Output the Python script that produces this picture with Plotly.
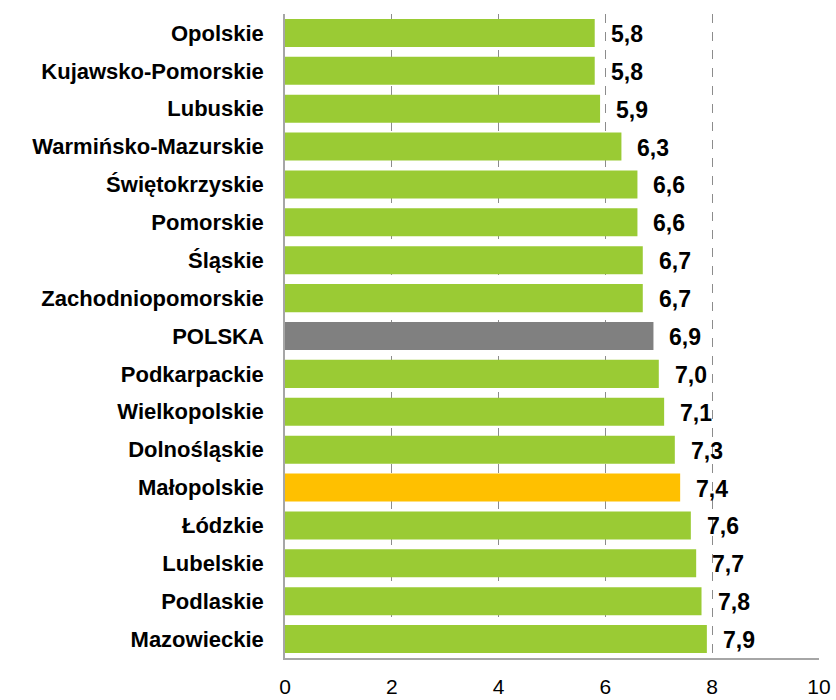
import plotly.graph_objects as go

regions = [
    "Opolskie", "Kujawsko-Pomorskie", "Lubuskie", "Warmińsko-Mazurskie",
    "Świętokrzyskie", "Pomorskie", "Śląskie", "Zachodniopomorskie", "POLSKA",
    "Podkarpackie", "Wielkopolskie", "Dolnośląskie", "Małopolskie", "Łódzkie",
    "Lubelskie", "Podlaskie", "Mazowieckie",
]
values = [5.8, 5.8, 5.9, 6.3, 6.6, 6.6, 6.7, 6.7, 6.9, 7.0, 7.1, 7.3, 7.4, 7.6, 7.7, 7.8, 7.9]
x_ticks = [0, 2, 4, 6, 8, 10]

GREEN = "#9ACB34"
GREY = "#808080"
GOLD = "#FFC000"
FONT = "Liberation Sans, Arial, sans-serif"

colors = []
for r in regions:
    if r == "POLSKA":
        colors.append(GREY)
    elif r == "Małopolskie":
        colors.append(GOLD)
    else:
        colors.append(GREEN)

fig = go.Figure(
    go.Bar(
        x=values,
        y=regions,
        orientation="h",
        marker=dict(color=colors, line=dict(width=0)),
        hoverinfo="skip",
    )
)

# value labels just past the bar ends, decimal comma
for r, v in zip(regions, values):
    fig.add_annotation(
        x=v, y=r, xref="x", yref="y",
        text=f"<b>{v:.1f}</b>".replace(".", ","),
        showarrow=False, xanchor="left", yanchor="middle",
        xshift=14, yshift=-1,
        font=dict(family=FONT, size=23, color="#000000"),
    )

fig.update_layout(
    width=836, height=700,
    margin=dict(l=285, r=17, t=14, b=42),
    paper_bgcolor="white", plot_bgcolor="white",
    bargap=0.26,
    showlegend=False,
    font=dict(family=FONT, color="#000000"),
)

fig.update_xaxes(
    range=[0, 10],
    tickvals=x_ticks,
    ticktext=[str(t) for t in x_ticks],
    showgrid=True, gridcolor="#8c8c8c", griddash="dash", gridwidth=1,
    zeroline=False,
    showline=True, linecolor="#a6a6a6", linewidth=1.5,
    ticks="", ticklabelstandoff=9,
    tickfont=dict(size=21, color="#000000"),
    automargin=False,
)

fig.update_yaxes(
    categoryorder="array", categoryarray=regions[::-1],
    autorange=True,
    showgrid=False, zeroline=False,
    showline=True, linecolor="#a6a6a6", linewidth=1.5,
    ticks="", ticklabelstandoff=15,
    tickfont=dict(size=22, color="#000000", weight="bold"),
    automargin=False,
)

fig.write_html("out.html")
